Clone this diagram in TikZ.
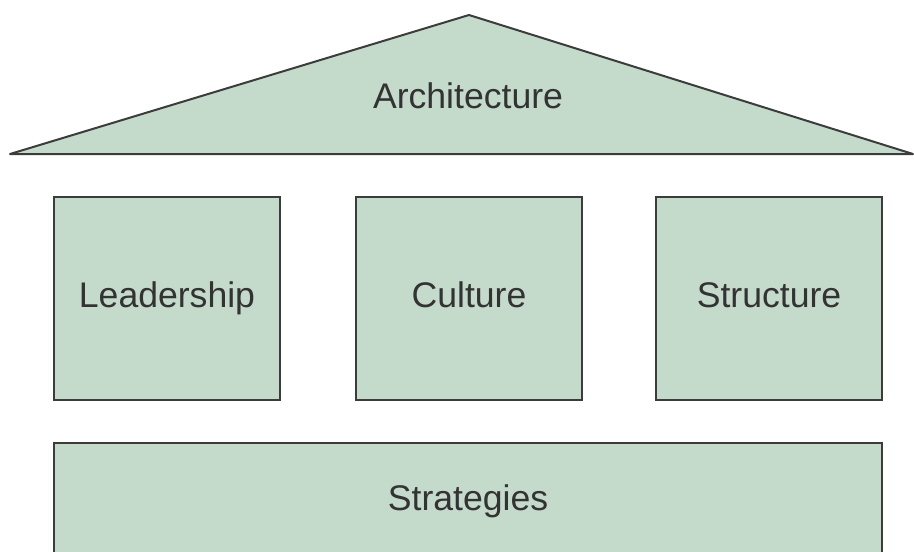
\documentclass[tikz,border=0pt]{standalone}
\usepackage{fontspec}
\setmainfont{Liberation Sans}
\definecolor{boxfill}{HTML}{C4DACA}
\definecolor{boxline}{HTML}{3C3C3C}
\definecolor{txt}{HTML}{333333}
\begin{document}
\begin{tikzpicture}[x=1pt,y=-1pt,
  part/.style={draw=boxline,fill=boxfill,line width=2pt,line join=miter},
  label/.style={text=txt,font=\fontsize{35.6}{40}\selectfont,inner sep=0pt,anchor=base},
  pillar/.style={part,minimum width=226pt,minimum height=203pt,inner sep=0pt,
    text=txt,font=\fontsize{35.6}{40}\selectfont,text height=26pt,text depth=7.5pt}]
\useasboundingbox (0,0) rectangle (914,552);
\clip (0,0) rectangle (914,552);
% roof
\draw[part,line join=round] (10,154) -- (469,15) -- (913,154) -- cycle;
\node[label] (arch) at (468,108) {Architecture};
% pillars
\node[pillar] (lead) at (167,298.5) {Leadership};
\node[pillar] (cult) at (469,298.5) {Culture};
\node[pillar] (struc) at (769,298.5) {Structure};
% foundation
\draw[part] (54,443) rectangle (882,575);
\node[label] (strat) at (468,510) {Strategies};
\end{tikzpicture}
\end{document}
